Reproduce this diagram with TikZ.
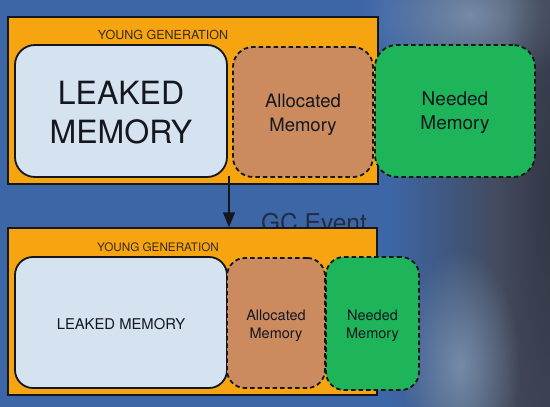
\documentclass[tikz,border=0pt]{standalone}
\usepackage{fontspec}
\setmainfont{TeX Gyre Heros}
\usetikzlibrary{arrows.meta,fadings}
\tikzfading[name=softblob, inner color=transparent!0, outer color=transparent!100]
\definecolor{bgblue}{HTML}{3D66A6}
\definecolor{bgdark}{HTML}{434A5C}
\definecolor{bglight}{HTML}{8399B5}
\definecolor{genorange}{HTML}{F6A511}
\definecolor{leakblue}{HTML}{D5E3F1}
\definecolor{allocbrown}{HTML}{CC8A5F}
\definecolor{needgreen}{HTML}{1EB45A}
\definecolor{inkdark}{HTML}{15171F}
\definecolor{gcgray}{HTML}{232C45}
\tikzset{
  genbox/.style={draw=inkdark, line width=1.4pt, fill=genorange, inner sep=0pt},
  leakbox/.style={draw=inkdark, line width=1.8pt, fill=leakblue, rounded corners=20pt, inner sep=0pt},
  allocbox/.style={draw=inkdark, line width=1.8pt, dash pattern=on 4.5pt off 3pt, fill=allocbrown, rounded corners=20pt, inner sep=0pt},
  needbox/.style={draw=inkdark, line width=1.8pt, dash pattern=on 4.5pt off 3pt, fill=needgreen, rounded corners=22pt, inner sep=0pt},
  boxtext/.style={text=inkdark, align=center, inner sep=0pt},
  genlabel/.style={text=inkdark!85!genorange, inner sep=0pt, anchor=north},
  blob/.style={path fading=softblob},
}
\begin{document}
\begin{tikzpicture}[x=1pt,y=-1pt]
\useasboundingbox (0,0) rectangle (550,407);
% background
\fill[bgblue] (0,0) rectangle (550,407);
\shade[left color=bgblue, right color=bgdark] (390,0) rectangle (500,407);
\fill[bgdark] (499,0) rectangle (550,407);
\fill[bglight, opacity=0.8, blob] (360,-60) rectangle (580,90);
\fill[bglight, opacity=0.8, blob] (400,250) rectangle (520,480);
\fill[bgdark!60!black, opacity=0.6, blob] (500,-150) rectangle (600,550);

% GC event label (behind the lower box)
\node[font=\fontsize{24.5}{28}\selectfont, text=gcgray, anchor=base, inner sep=0pt] (gc) at (314,231) {GC Event};

% top row
\node[genbox, minimum width=370pt, minimum height=167pt] (topgen) at (193,100.5) {};
\node[genlabel, font=\fontsize{12.5}{14}\selectfont] (topgenlabel) at (163,30) {YOUNG GENERATION};
\node[leakbox, minimum width=212pt, minimum height=132pt] (topleak) at (121,111) {};
\node[allocbox, minimum width=140pt, minimum height=130pt] (topalloc) at (303,112) {};
\node[needbox, minimum width=160pt, minimum height=132pt] (topneed) at (455,111) {};
\node[boxtext, font=\fontsize{32}{39}\selectfont] (topleaktext) at (121,113) {LEAKED\\MEMORY};
\node[boxtext, font=\fontsize{18.5}{24}\selectfont] (topalloctext) at (303,115) {Allocated\\Memory};
\node[boxtext, font=\fontsize{19}{24}\selectfont] (topneedtext) at (455,113) {Needed\\Memory};

% bottom row
\node[genbox, minimum width=369pt, minimum height=167pt] (botgen) at (192.5,311.5) {};
\node[genlabel, font=\fontsize{11.7}{14}\selectfont] (botgenlabel) at (158,242.5) {YOUNG GENERATION};
\node[leakbox, rounded corners=18pt, minimum width=212pt, minimum height=131pt] (botleak) at (121,322.5) {};
\node[allocbox, rounded corners=18pt, minimum width=98pt, minimum height=130pt] (botalloc) at (276,323) {};
\node[needbox, rounded corners=18pt, minimum width=93pt, minimum height=133pt] (botneed) at (372.5,323.5) {};
\node[boxtext, font=\fontsize{14.8}{18}\selectfont] (botleaktext) at (121,324) {LEAKED MEMORY};
\node[boxtext, font=\fontsize{14.5}{18}\selectfont] (botalloctext) at (276,326) {Allocated\\Memory};
\node[boxtext, font=\fontsize{14.5}{18}\selectfont] (botneedtext) at (372.5,326) {Needed\\Memory};

% arrow
\coordinate (arrowtop) at (229,176);
\draw[inkdark, line width=1.4pt, -{Triangle[length=15pt, width=12pt]}] (arrowtop) -- (arrowtop |- botgen.north);
\end{tikzpicture}
\end{document}
